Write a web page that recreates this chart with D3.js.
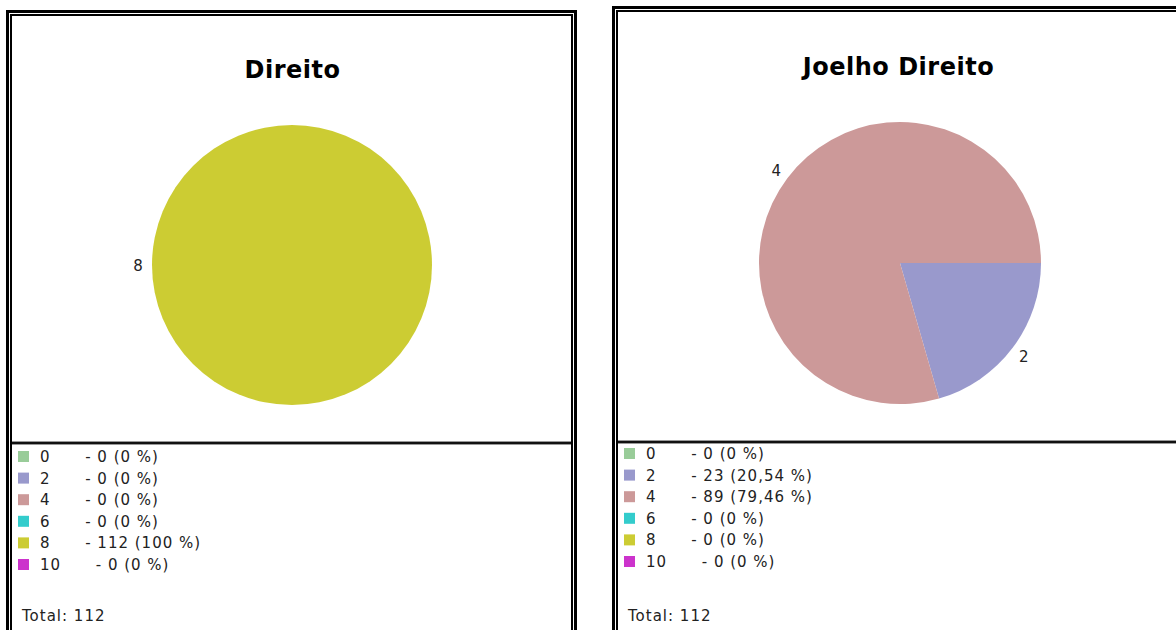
<!DOCTYPE html>
<html>
<head>
<meta charset="utf-8">
<script src="https://cdn.jsdelivr.net/npm/d3@7"></script>
<style>
  body { margin: 0; background: #fff; }
  svg { display: block; }
  text { font-family: "DejaVu Sans", Verdana, sans-serif; }
</style>
</head>
<body>
<svg id="chart" width="1176" height="630"></svg>
<script>
// categories shared by both pies
const categories = ["0", "2", "4", "6", "8", "10"];
const colors = ["#99cc99", "#9999cc", "#cc9999", "#33cccc", "#cccc33", "#cc33cc"];

// counts per category
const direitoValues = [0, 0, 0, 0, 112, 0];
const joelhoValues = [0, 23, 89, 0, 0, 0];

const titles = ["Direito", "Joelho Direito"];

const svg = d3.select("#chart");
const PANEL_W = 571;
const FONT_SIZE = 15;

function fmtPct(v) {
    if (v === 0 || v === 100) return String(v);
    return v.toFixed(2).replace(".", ",");
}

function plotPanel(x, y, title, values, layout) {
    const g = svg.append("g").attr("transform", `translate(${x}, ${y})`);
    const total = d3.sum(values);

    // outer thick border + inner thin border
    g.append("rect")
        .attr("x", 1.5).attr("y", 1.5)
        .attr("width", PANEL_W - 3).attr("height", 700)
        .attr("fill", "#fff").attr("stroke", "#000").attr("stroke-width", 3);
    g.append("rect")
        .attr("x", 5).attr("y", 5)
        .attr("width", PANEL_W - 10).attr("height", 700)
        .attr("fill", "none").attr("stroke", "#000").attr("stroke-width", 2);

    // separator between chart image and legend
    g.append("rect").attr("x", 6).attr("y", layout.sep - 1).attr("width", PANEL_W - 12).attr("height", 4).attr("fill", "#999");
    g.append("rect").attr("x", 6).attr("y", layout.sep).attr("width", PANEL_W - 12).attr("height", 2).attr("fill", "#111");

    // title
    g.append("text")
        .attr("x", PANEL_W / 2 + 1).attr("y", layout.titleY)
        .attr("text-anchor", "middle")
        .style("font-size", "24px").style("font-weight", "bold")
        .style("letter-spacing", "0.5px")
        .text(title);

    // pie, starting at 3 o'clock going clockwise
    const radius = layout.r;
    const pie = d3.pie().sort(null).startAngle(Math.PI / 2).endAngle(Math.PI / 2 + 2 * Math.PI);
    const arcs = pie(values);
    const arcGenerator = d3.arc().innerRadius(0).outerRadius(radius);
    const labelArc = d3.arc().innerRadius(radius + 14).outerRadius(radius + 14);

    const pg = g.append("g").attr("transform", `translate(${layout.cx}, ${layout.cy})`);
    pg.selectAll("path")
        .data(arcs.filter(d => d.value > 0))
        .enter()
        .append("path")
        .attr("d", arcGenerator)
        .attr("fill", d => colors[d.index]);

    pg.selectAll("text")
        .data(arcs.filter(d => d.value > 0))
        .enter()
        .append("text")
        .attr("transform", d => `translate(${labelArc.centroid(d)})`)
        .attr("text-anchor", "middle")
        .attr("dy", "0.4em")
        .style("font-size", `${FONT_SIZE}px`)
        .style("fill", "#222")
        .text(d => categories[d.index]);

    // legend
    const rowH = 21.6;
    const leg = g.append("g");
    leg.selectAll("rect")
        .data(categories)
        .enter()
        .append("rect")
        .attr("x", 12).attr("y", (d, i) => layout.legTop + i * rowH - 11)
        .attr("width", 11).attr("height", 11)
        .attr("fill", (d, i) => colors[i]);

    leg.selectAll("text")
        .data(categories)
        .enter()
        .append("text")
        .attr("x", 34).attr("y", (d, i) => layout.legTop + i * rowH)
        .attr("xml:space", "preserve")
        .style("white-space", "pre")
        .style("font-size", `${FONT_SIZE}px`)
        .style("letter-spacing", "1px")
        .style("fill", "#222")
        .text((d, i) => `${d}      - ${values[i]} (${fmtPct(values[i] / total * 100)} %)`);

    g.append("text")
        .attr("x", 16).attr("y", layout.totalY)
        .style("font-size", `${FONT_SIZE}px`)
        .style("letter-spacing", "1px")
        .style("fill", "#222")
        .text(`Total: ${total}`);
}

plotPanel(6, 10, titles[0], direitoValues,
    { cx: 286, cy: 255, r: 140, titleY: 68, sep: 432, legTop: 452, totalY: 611 });
plotPanel(612, 6, titles[1], joelhoValues,
    { cx: 288, cy: 257, r: 141, titleY: 69, sep: 435, legTop: 453, totalY: 615 });
</script>
</body>
</html>
